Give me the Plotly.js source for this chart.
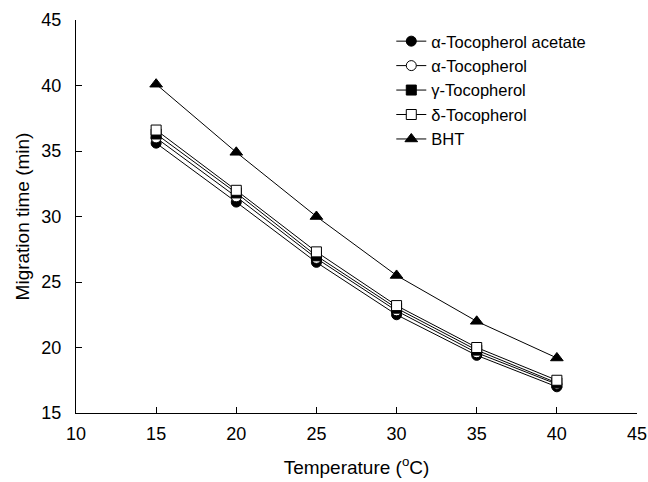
<!DOCTYPE html>
<html>
<head>
<meta charset="utf-8">
<script src="https://cdn.plot.ly/plotly-3.0.1.min.js"></script>
<style>html,body{margin:0;padding:0;background:#fff;}#chart{width:648px;height:482px;}</style>
</head>
<body>
<div id="chart"></div>
<script>
const temperature = [15, 20, 25, 30, 35, 40];
const alphaTocAcetate = [35.6, 31.1, 26.5, 22.5, 19.4, 17.0];
const alphaToc = [36.0, 31.5, 26.8, 22.8, 19.6, 17.2];
const gammaToc = [36.3, 31.8, 27.0, 23.0, 19.8, 17.3];
const deltaToc = [36.6, 32.0, 27.3, 23.2, 20.0, 17.5];
const bht = [40.1, 34.9, 30.0, 25.5, 22.0, 19.2];
const seriesNames = ["α-Tocopherol acetate", "α-Tocopherol", "γ-Tocopherol", "δ-Tocopherol", "BHT"];
const xTicks = [10, 15, 20, 25, 30, 35, 40, 45];
const yTicks = [15, 20, 25, 30, 35, 40, 45];

const markerDefs = [
  {symbol: "circle", color: "#000"},
  {symbol: "circle", color: "#fff"},
  {symbol: "square", color: "#000"},
  {symbol: "square", color: "#fff"},
  {symbol: "triangle-up", color: "#000"}
];
const ys = [alphaTocAcetate, alphaToc, gammaToc, deltaToc, bht];
const traces = ys.map((y, i) => ({
  x: temperature, y: y, name: seriesNames[i], type: "scatter", mode: "lines+markers",
  line: {color: "#000", width: 1},
  marker: {symbol: markerDefs[i].symbol, color: markerDefs[i].color, size: markerDefs[i].symbol === "triangle-up" ? 11 : 10,
           line: {color: "#000", width: 1}}
}));

const layout = {
  width: 648, height: 482,
  margin: {l: 76, r: 11, t: 20, b: 69},
  paper_bgcolor: "#fff", plot_bgcolor: "#fff",
  font: {family: "Liberation Sans, Arial, sans-serif", color: "#000", size: 16},
  showlegend: true,
  legend: {x: 0.562, y: 0.99, xanchor: "left", yanchor: "top", font: {size: 16.5}, bgcolor: "rgba(0,0,0,0)", tracegroupgap: 0},
  xaxis: {
    range: [10, 45], tickvals: xTicks, ticktext: xTicks.map(String),
    showline: true, linecolor: "#000", linewidth: 1, showgrid: false, zeroline: false,
    ticks: "inside", ticklen: 6, tickcolor: "#000",
    tickfont: {size: 18}, ticklabelstandoff: 4,
    title: {text: "Temperature (<sup>o</sup>C)", font: {size: 19}, standoff: 18}
  },
  yaxis: {
    range: [15, 45], tickvals: yTicks, ticktext: yTicks.map(String),
    showline: true, linecolor: "#000", linewidth: 1, showgrid: false, zeroline: false,
    ticks: "inside", ticklen: 6, tickcolor: "#000",
    tickfont: {size: 18}, ticklabelstandoff: 10,
    title: {text: "Migration time (min)", font: {size: 19}, standoff: 6}
  }
};
Plotly.newPlot("chart", traces, layout, {displayModeBar: false, staticPlot: true});
</script>
</body>
</html>
